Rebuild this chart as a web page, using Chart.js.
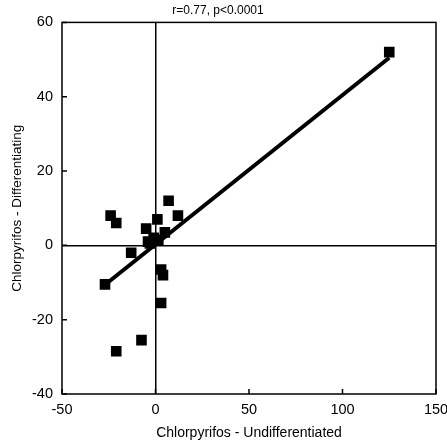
<!DOCTYPE html>
<html>
<head>
<meta charset="utf-8">
<script src="https://cdn.jsdelivr.net/npm/chart.js@4/dist/chart.umd.min.js"></script>
<style>
  html, body { margin: 0; padding: 0; background: #fff; }
  #wrap { width: 447px; height: 446px; }
</style>
</head>
<body>
<div id="wrap"><canvas id="myChart" width="447" height="446"></canvas></div>
<script>
// data
const xVals = [125, -27, -24, -21, -13, -5, -4, 1, -1, 7, 12, 5, 3, 4, 3, -7.5, -21, -3, 1.5];
const yVals = [52, -10.5, 8, 6, -2, 4.5, 1, 7, 2, 12, 8, 3.5, -6.5, -8, -15.5, -25.5, -28.5, 0.5, 1.5];
const fitX = [-27, 125];
const fitY = [-10.6, 50.5];
const xTicks = [-50, 0, 50, 100, 150];
const yTicks = [-40, -20, 0, 20, 40, 60];

const points = xVals.map((x, i) => ({ x: x, y: yVals[i] }));
const fitLine = fitX.map((x, i) => ({ x: x, y: fitY[i] }));

const FAMILY = "'Liberation Sans', Arial, sans-serif";
const mkFont = size => ({ family: FAMILY, size: size, weight: 'normal' });

// box round the plot and short inward ticks
const framePlugin = {
    id: 'frame',
    afterDraw(chart) {
        const { ctx, chartArea: a, scales } = chart;
        ctx.save();
        ctx.strokeStyle = '#000';
        ctx.lineWidth = 1.5;
        ctx.strokeRect(a.left, a.top, a.right - a.left, a.bottom - a.top);
        ctx.beginPath();
        xTicks.forEach(v => {
            const px = scales.x.getPixelForValue(v);
            ctx.moveTo(px, a.bottom);
            ctx.lineTo(px, a.bottom - 5);
        });
        yTicks.forEach(v => {
            const py = scales.y.getPixelForValue(v);
            ctx.moveTo(a.left, py);
            ctx.lineTo(a.left + 5, py);
        });
        ctx.stroke();
        ctx.restore();
    }
};

const zeroColor = c => c.tick && c.tick.value === 0 ? '#000' : 'rgba(0,0,0,0)';

const ctx = document.getElementById('myChart').getContext('2d');
const myChart = new Chart(ctx, {
    type: 'scatter',
    data: {
        datasets: [{
            label: 'fit',
            type: 'line',
            data: fitLine,
            borderColor: '#000',
            borderWidth: 4,
            pointRadius: 0,
            fill: false
        }, {
            label: 'samples',
            data: points,
            pointStyle: 'rect',
            pointRadius: 7.5,
            backgroundColor: '#000',
            borderColor: '#000',
            borderWidth: 0
        }]
    },
    options: {
        responsive: false,
        animation: false,
        layout: { padding: { top: 0, right: 11, left: 0, bottom: 0 } },
        plugins: {
            legend: { display: false },
            tooltip: { enabled: false },
            title: {
                display: true,
                text: 'r=0.77, p<0.0001',
                color: '#000',
                font: mkFont(12),
                padding: { top: 3, bottom: 5 }
            }
        },
        scales: {
            x: {
                type: 'linear',
                min: -50,
                max: 150,
                afterFit(s) { s.height = 52; s.paddingLeft = 0; s.paddingRight = 0; },
                ticks: { stepSize: 50, color: '#000', font: { family: FAMILY, size: 14.5 }, padding: 7, maxRotation: 0 },
                grid: { color: zeroColor, lineWidth: 1.5, drawTicks: false },
                border: { display: false },
                title: {
                    display: true,
                    text: 'Chlorpyrifos - Undifferentiated',
                    color: '#000',
                    font: mkFont(14),
                    padding: { top: 0, bottom: 4 }
                }
            },
            y: {
                type: 'linear',
                min: -40,
                max: 60,
                afterFit(s) { s.width = 62; s.paddingTop = 0; s.paddingBottom = 0; },
                ticks: { stepSize: 20, color: '#000', font: { family: FAMILY, size: 14.5 }, padding: 9 },
                grid: { color: zeroColor, lineWidth: 1.5, drawTicks: false },
                border: { display: false },
                title: {
                    display: true,
                    text: 'Chlorpyrifos - Differentiating',
                    color: '#000',
                    font: mkFont(13.5),
                    padding: { top: 9, bottom: 0 }
                }
            }
        }
    },
    plugins: [framePlugin]
});
</script>
</body>
</html>
